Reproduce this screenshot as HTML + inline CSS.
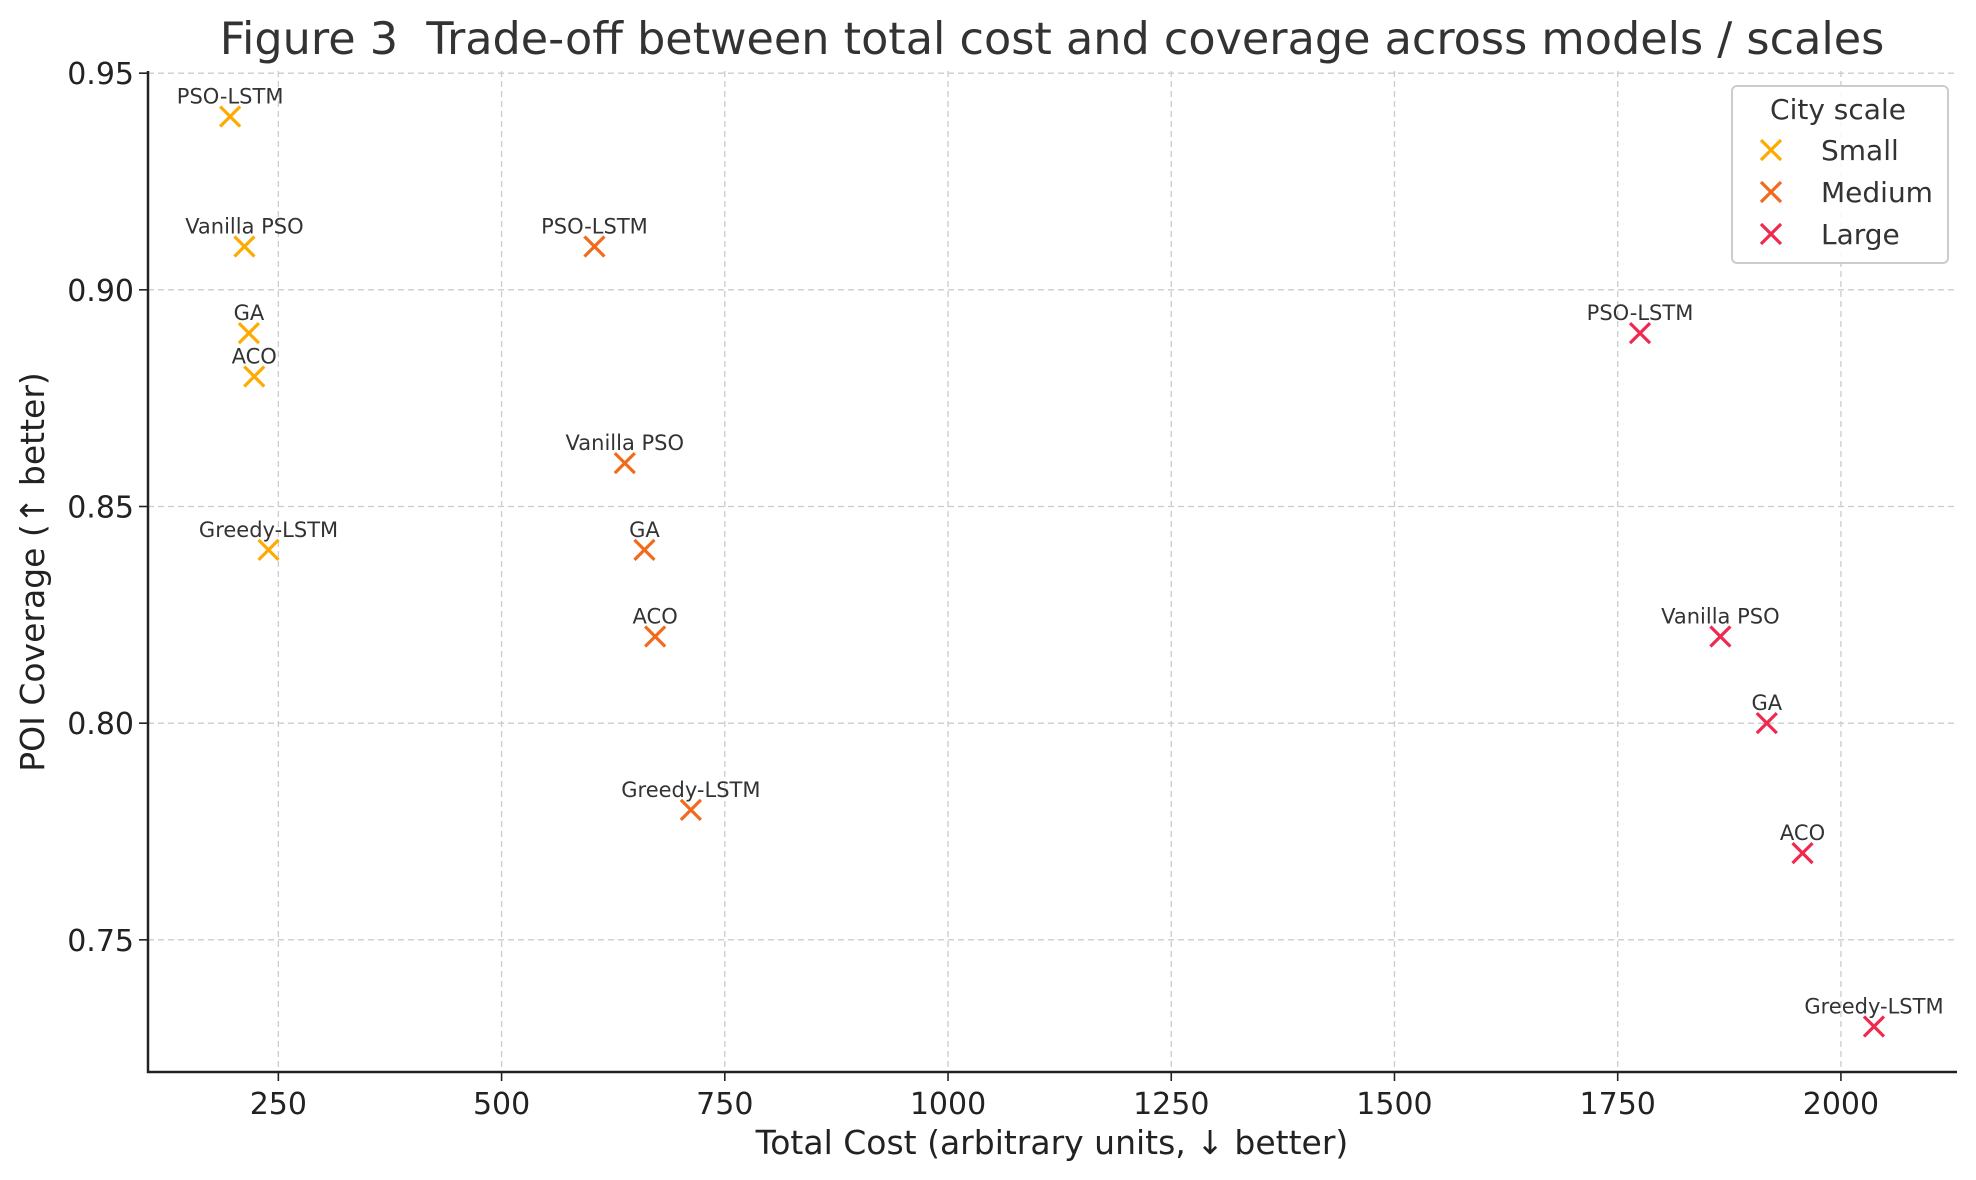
<!DOCTYPE html>
<html><head><meta charset="utf-8"><style>
html,body{margin:0;padding:0;background:#fff;}
svg{display:block;font-family:"DejaVu Sans","Liberation Sans",sans-serif;}
</style></head><body>
<svg id="chart" width="1976" height="1180" viewBox="0 0 1976 1180">
<text x="1052" y="54" font-size="44.5" fill="#333" text-anchor="middle" style="white-space:pre">Figure 3  Trade-off between total cost and coverage across models / scales</text>
<g id="grid"></g><g id="axes"></g><g id="marks"></g>
<text x="1052" y="1154" font-size="33" fill="#222" text-anchor="middle">Total Cost (arbitrary units, ↓ better)</text>
<text transform="translate(44,572) rotate(-90)" font-size="33" fill="#222" text-anchor="middle">POI Coverage (↑ better)</text>
<g id="legend">
<rect x="1732" y="86" width="216" height="177" rx="5" fill="#fff" fill-opacity="0.85" stroke="#ccc" stroke-width="2"/>
<text x="1838" y="119" font-size="28" fill="#333" text-anchor="middle">City scale</text>
</g>
</svg>
<script>
const models = ["PSO-LSTM","Vanilla PSO","GA","ACO","Greedy-LSTM"];
const scales = ["Small","Medium","Large"];
const colors = ["#FFAA00","#F26B1D","#F0294F"];
const costSmall = [196,212,217,223,239];
const covSmall = [0.94,0.91,0.89,0.88,0.84];
const costMedium = [604,638,660,672,712];
const covMedium = [0.91,0.86,0.84,0.82,0.78];
const costLarge = [1775,1865,1917,1957,2037];
const covLarge = [0.89,0.82,0.80,0.77,0.73];
const xTicks = [250,500,750,1000,1250,1500,1750,2000];
const yTicks = [0.75,0.80,0.85,0.90,0.95];
const yTickLabels = ["0.75","0.80","0.85","0.90","0.95"];

const X0=148,X1=1957,Y0=1072,Y1=71;
const XMIN=104,XMAX=2130,YMIN=0.7195,YMAX=0.9505;
const sx=v=>X0+(v-XMIN)/(XMAX-XMIN)*(X1-X0);
const sy=v=>Y0-(v-YMIN)/(YMAX-YMIN)*(Y0-Y1);
const NS="http://www.w3.org/2000/svg";
function mk(tag,attrs,parent){const e=document.createElementNS(NS,tag);for(const k in attrs)e.setAttribute(k,attrs[k]);parent.appendChild(e);return e;}
const grid=document.getElementById('grid'),axes=document.getElementById('axes'),marks=document.getElementById('marks'),legend=document.getElementById('legend');
xTicks.forEach(t=>{
  const x=sx(t);
  const g=mk('line',{x1:x,x2:x,y1:Y1,y2:Y0,stroke:'#ccc','stroke-width':1.3,'stroke-dasharray':'6,4'},grid);
  
  
  mk('line',{x1:x,x2:x,y1:Y0,y2:Y0+9,stroke:'#222','stroke-width':1.6},axes);
  const l=mk('text',{x:x,y:Y0+42,'font-size':30,fill:'#222','text-anchor':'middle'},axes);
  l.textContent=t;
  
  
});
yTicks.forEach((t,i)=>{
  const y=sy(t);
  const g=mk('line',{x1:X0,x2:X1,y1:y,y2:y,stroke:'#ccc','stroke-width':1.3,'stroke-dasharray':'6,4'},grid);
  
  
  mk('line',{x1:X0-9,x2:X0,y1:y,y2:y,stroke:'#222','stroke-width':1.6},axes);
  const l=mk('text',{x:X0-14,y:y+11,'font-size':30,fill:'#222','text-anchor':'end'},axes);
  l.textContent=yTickLabels[i];
  
  
});
const ax=mk('path',{d:`M${X0},${Y1} L${X0},${Y0} L${X1},${Y0}`,fill:'none',stroke:'#222','stroke-width':2.5},axes);


function cross(cx,cy,c,parent,r){r=r||10;
  mk('path',{d:`M${cx-r},${cy-r}L${cx+r},${cy+r}M${cx-r},${cy+r}L${cx+r},${cy-r}`,stroke:c,'stroke-width':3.2,fill:'none'},parent);}
const series=[[costSmall,covSmall],[costMedium,covMedium],[costLarge,covLarge]];
series.forEach((s,si)=>{
  s[0].forEach((c,i)=>{
    const g=mk('g',{},marks);
    
    
    const x=sx(c),y=sy(s[1][i]);
    cross(x,y,colors[si],g);
    const t=mk('text',{x:x,y:y-13,'font-size':21,fill:'#333','text-anchor':'middle'},g);
    t.textContent=models[i];
  });
});
scales.forEach((s,i)=>{
  const y=150+i*42;
  const g=mk('g',{},legend);
  
  
  cross(1771,y,colors[i],g,10);
  const t=mk('text',{x:1821,y:y+10,'font-size':28,fill:'#333'},g);
  t.textContent=s;
});
</script>
</body></html>
